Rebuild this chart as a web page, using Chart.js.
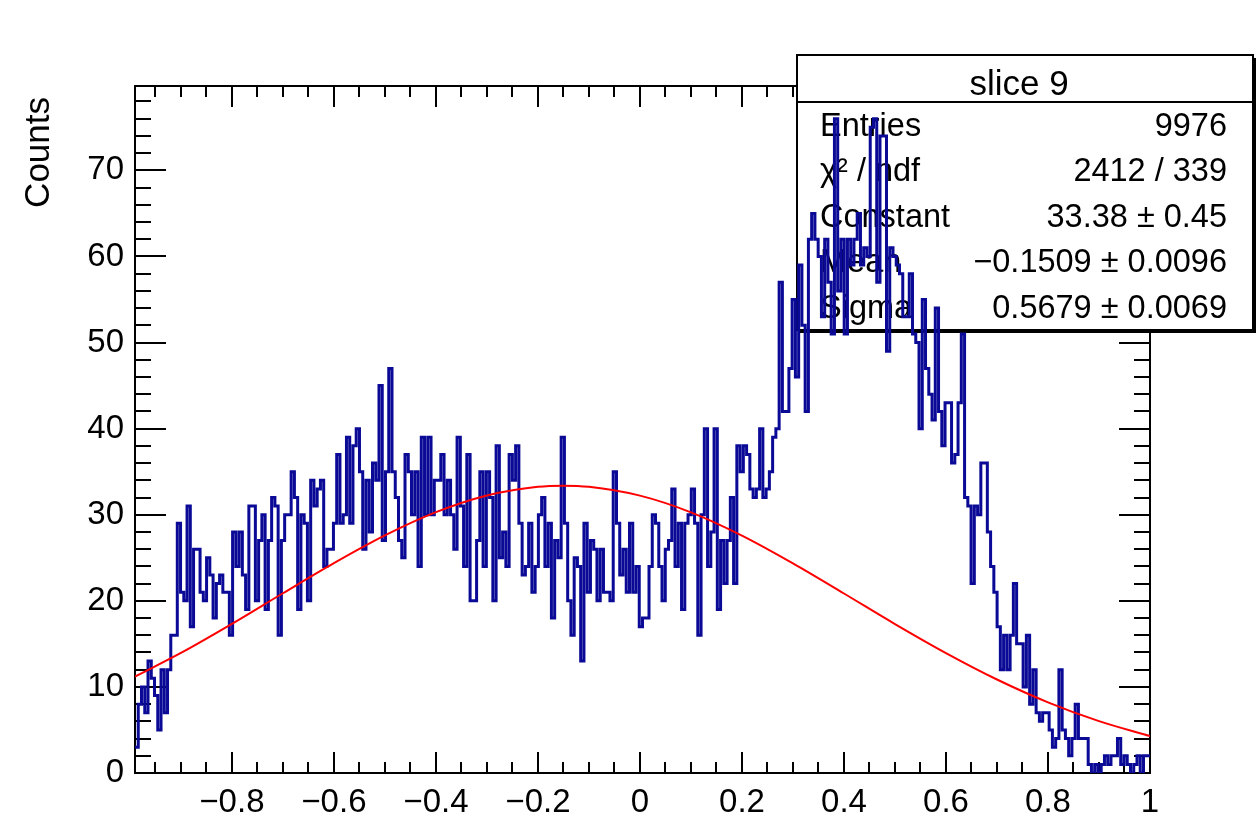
<!DOCTYPE html>
<html>
<head>
<meta charset="utf-8">
<script src="https://cdn.jsdelivr.net/npm/chart.js@4/dist/chart.umd.min.js"></script>
<style>
  html, body { margin: 0; padding: 0; background: #fff; }
  canvas { display: block; }
</style>
</head>
<body>
<canvas id="sliceChart" width="1258" height="816"></canvas>
<script>
// histogram range and bin contents (left to right)
const xMin = -0.99;
const xMax = 1.0;
const yMax = 79.8;

const counts = [
	3, 8, 10, 7, 13, 11, 9, 5, 12, 7, 12, 16, 16, 29, 21, 20, 31, 17, 26, 26, 21, 20, 25, 23, 18, 22, 23, 21, 21, 16, 28, 24,
	28, 23, 19, 31, 31, 20, 27, 30, 19, 27, 32, 31, 16, 27, 30, 30, 35, 32, 19, 30, 29, 20, 34, 31, 33, 34, 24, 26, 26, 29, 37, 29,
	30, 39, 29, 38, 40, 35, 26, 34, 28, 36, 34, 45, 27, 35, 47, 35, 32, 27, 25, 37, 35, 30, 35, 24, 39, 30, 39, 30, 34,
	34, 37, 30, 34, 30, 26, 39, 31, 24, 37, 20, 20, 27, 35, 24, 35, 32, 20, 38, 25, 28, 24, 37, 34, 38, 29, 23, 24, 29,
	21, 24, 30, 32, 24, 29, 18, 27, 25, 39, 29, 20, 16, 25, 24, 13, 29, 21, 27, 26, 20, 26, 21, 21, 20, 35, 29, 23, 26, 21, 29, 21,
	24, 17, 18, 18, 24, 30, 29, 24, 20, 26, 27, 33, 24, 29, 19, 29, 30, 33, 29, 16, 30, 40, 24, 28, 40, 19, 27, 22, 27, 32, 22, 38,
	35, 38, 37, 33, 32, 33, 40, 32, 33, 35, 39, 40, 57, 42, 42, 47, 55, 46, 59, 52, 42, 62, 65, 62, 60, 53, 62, 57, 51, 76,
	56, 62, 51, 62, 59, 62, 65, 59, 61, 60, 75, 76, 57, 74, 74, 49, 61, 60, 59, 58, 53, 53, 58, 51, 50, 40, 55, 47, 44, 41, 54,
	42, 38, 43, 43, 36, 37, 43, 51, 32, 31, 22, 31, 30, 36, 36, 28, 24, 21, 17, 12, 16, 12, 16, 22, 15, 15, 10, 16, 8, 12, 7,
	6, 7, 7, 5, 3, 4, 12, 5, 4, 2, 4, 8, 4, 4, 4, 1, 0, 1, 0, 1, 2, 1, 2, 2, 4, 1, 2, 1, 0, 1, 2, 0, 2, 2
];

// gaussian fit curve, sampled points
const fitX = [-0.99, -0.9, -0.8, -0.7, -0.6, -0.5, -0.4, -0.3, -0.2, -0.1509, -0.1, 0, 0.1, 0.2, 0.3, 0.4, 0.5, 0.6, 0.7, 0.8, 0.9, 1.0];
const fitY = [11.2, 13.95, 17.33, 20.88, 24.38, 27.6, 30.3, 32.24, 33.25, 33.38, 33.25, 32.22, 30.28, 27.58, 24.35, 20.85, 17.3, 13.93, 10.86, 8.21, 6.02, 4.28];

const xTickValues = [-0.8, -0.6, -0.4, -0.2, 0, 0.2, 0.4, 0.6, 0.8, 1];
const xTickLabels = ['\u22120.8', '\u22120.6', '\u22120.4', '\u22120.2', '0', '0.2', '0.4', '0.6', '0.8', '1'];
const yTickValues = [0, 10, 20, 30, 40, 50, 60, 70];
const yTickLabels = ['0', '10', '20', '30', '40', '50', '60', '70'];

const yTitle = 'Counts';
const statsTitle = 'slice 9';
const statsNames = ['Entries', '\u03c7\u00b2 / ndf', 'Constant', 'Mean', 'Sigma'];
const statsValues = ['9976', '2412 / 339', '33.38 \u00b1 0.45', '\u22120.1509 \u00b1 0.0096', '0.5679 \u00b1 0.0069'];

const FONT = '"Liberation Sans", Arial, sans-serif';

const binWidth = (xMax - xMin) / counts.length;
const histPoints = counts.map((c, i) => ({ x: xMin + i * binWidth, y: c }));
histPoints.push({ x: xMax, y: counts[counts.length - 1] });

const fitPoints = fitX.map((x, i) => ({ x: x, y: fitY[i] }));

// ROOT style frame, inward ticks on all sides, stats box
const rootFrame = {
	id: 'rootFrame',
	beforeDatasetsDraw(chart) {
		const ctx = chart.ctx;
		const a = chart.chartArea;
		const xs = chart.scales.x;
		const ys = chart.scales.y;
		ctx.save();
		ctx.strokeStyle = '#000';
		ctx.lineWidth = 2;
		ctx.strokeRect(a.left, a.top, a.right - a.left, a.bottom - a.top);

		ctx.beginPath();
		// x ticks: major every 0.2, minor every 0.05
		for (let k = -19; k <= 20; k++) {
			const v = k * 0.05;
			if (v < xMin - 1e-9 || v > xMax + 1e-9) continue;
			const px = Math.round(xs.getPixelForValue(v));
			const len = (k % 4 === 0) ? 21 : 11;
			ctx.moveTo(px, a.bottom); ctx.lineTo(px, a.bottom - len);
			ctx.moveTo(px, a.top); ctx.lineTo(px, a.top + len);
		}
		// y ticks: major every 10, minor every 2
		for (let v = 0; v <= yMax; v += 2) {
			const py = Math.round(ys.getPixelForValue(v));
			const len = (v % 10 === 0) ? 31 : 16;
			ctx.moveTo(a.left, py); ctx.lineTo(a.left + len, py);
			ctx.moveTo(a.right, py); ctx.lineTo(a.right - len, py);
		}
		ctx.stroke();

		// stats box
		const bx = 797, by = 55, bw = 456, bh = 275;
		ctx.fillStyle = '#000';
		ctx.fillRect(bx + 3, by + 3, bw, bh);
		ctx.fillStyle = '#fff';
		ctx.fillRect(bx, by, bw, bh);
		ctx.lineWidth = 2;
		ctx.strokeRect(bx, by, bw, bh);
		ctx.beginPath();
		ctx.moveTo(bx, 102); ctx.lineTo(bx + bw, 102);
		ctx.stroke();

		ctx.fillStyle = '#000';
		ctx.textBaseline = 'alphabetic';
		ctx.textAlign = 'center';
		ctx.font = '35px ' + FONT;
		ctx.fillText(statsTitle, 1019, 95);
		ctx.font = '32.5px ' + FONT;
		const rowY = [136, 181, 227, 272, 318];
		statsNames.forEach((name, i) => {
			ctx.textAlign = 'left';
			ctx.fillText(name, 820, rowY[i]);
			ctx.textAlign = 'right';
			ctx.fillText(statsValues[i], 1227, rowY[i]);
		});

		// y axis title
		ctx.save();
		ctx.translate(49, 97);
		ctx.rotate(-Math.PI / 2);
		ctx.textAlign = 'right';
		ctx.font = '35px ' + FONT;
		ctx.fillText(yTitle, 0, 0);
		ctx.restore();

		ctx.restore();
	}
};

const ctx = document.getElementById('sliceChart').getContext('2d');

const chart = new Chart(ctx, {
	type: 'line',
	data: {
		datasets: [
			{
				label: 'gaus',
				data: fitPoints,
				borderColor: '#ff0000',
				borderWidth: 2,
				pointRadius: 0,
				fill: false,
				cubicInterpolationMode: 'monotone'
			},
			{
				label: statsTitle,
				data: histPoints,
				stepped: true,
				borderColor: 'rgb(10, 10, 150)',
				borderWidth: 3,
				pointRadius: 0,
				fill: false
			}
		]
	},
	options: {
		responsive: false,
		animation: false,
		layout: { padding: { top: 86, right: 108, left: 0, bottom: 0 } },
		plugins: {
			legend: { display: false },
			tooltip: { enabled: false }
		},
		scales: {
			x: {
				type: 'linear',
				min: xMin,
				max: xMax,
				grid: { display: false, drawTicks: false },
				border: { display: false },
				afterBuildTicks: s => { s.ticks = xTickValues.map(v => ({ value: v })); },
				afterFit: s => { s.height = 43; },
				ticks: {
					callback: (v, i) => xTickLabels[i],
					autoSkip: false,
					maxRotation: 0,
					padding: 10,
					color: '#000',
					font: { family: FONT, size: 33 }
				}
			},
			y: {
				type: 'linear',
				min: 0,
				max: yMax,
				grid: { display: false, drawTicks: false },
				border: { display: false },
				afterBuildTicks: s => { s.ticks = yTickValues.map(v => ({ value: v })); },
				afterFit: s => { s.width = 135; },
				ticks: {
					callback: (v, i) => yTickLabels[i],
					padding: 11,
					color: '#000',
					font: { family: FONT, size: 33 }
				}
			}
		}
	},
	plugins: [rootFrame]
});
</script>
</body>
</html>
